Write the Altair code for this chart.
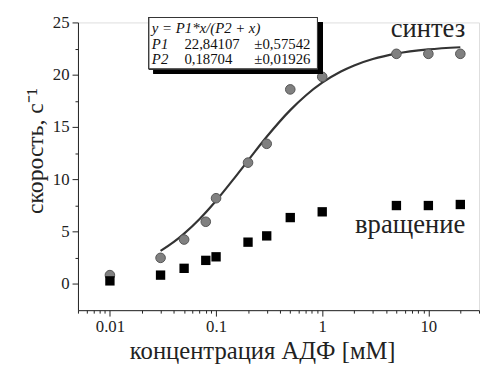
import altair as alt
import pandas as pd

# synthesis (circles)
syn_x = [0.01, 0.03, 0.05, 0.08, 0.1, 0.2, 0.3, 0.5, 1, 5, 10, 20]
syn_y = [0.85, 2.5, 4.25, 5.95, 8.2, 11.6, 13.4, 18.6, 19.8, 22.0, 22.0, 22.0]
# rotation (squares)
rot_x = [0.01, 0.03, 0.05, 0.08, 0.1, 0.2, 0.3, 0.5, 1, 5, 10, 20]
rot_y = [0.3, 0.85, 1.5, 2.26, 2.6, 4.0, 4.6, 6.35, 6.9, 7.5, 7.5, 7.6]
# fitted curve
fit_x = [0.03, 0.04, 0.05, 0.07, 0.1, 0.15, 0.2, 0.3, 0.5, 0.7, 1, 1.5, 2, 3, 5, 10, 20]
fit_y = [3.16, 4.02, 4.82, 6.22, 7.96, 10.17, 11.80, 14.07, 16.62, 18.02, 19.24,
         20.31, 20.89, 21.50, 22.02, 22.42, 22.63]

major_x = [0.01, 0.1, 1, 10]
minor_x = [0.005, 0.006, 0.007, 0.008, 0.009,
           0.02, 0.03, 0.04, 0.05, 0.06, 0.07, 0.08, 0.09,
           0.2, 0.3, 0.4, 0.5, 0.6, 0.7, 0.8, 0.9,
           2, 3, 4, 5, 6, 7, 8, 9, 20, 30]
y_ticks = [0, 2.5, 5, 7.5, 10, 12.5, 15, 17.5, 20, 22.5, 25]

series_labels = ["синтез", "вращение"]
series_label_x = [20, 20]
series_label_y = [23.6, 4.9]

fit_lines = [["y = P1*x/(P2 + x)", "", ""],
             ["P1", "22,84107", "±0,57542"],
             ["P2", "0,18704", "±0,01926"]]

FONT = "Liberation Serif"

xscale = alt.Scale(type="log", domain=[0.005, 30], nice=False)
yscale = alt.Scale(domain=[-2.5, 25], nice=False, zero=False)

major_test = "indexof([0.01, 0.1, 1, 10], datum.value) >= 0"
xaxis = alt.Axis(values=sorted(major_x + minor_x), format="~g",
                 labelExpr=f"{major_test} ? datum.label : ''",
                 tickSize={"condition": {"test": major_test, "value": 6}, "value": 3},
                 title="концентрация АДФ [мМ]", titleFont=FONT, titleFontSize=25,
                 titleFontWeight="normal", titleColor="#222", titlePadding=4,
                 titleX=187,
                 labelFont=FONT, labelFontSize=17, labelColor="#222", labelPadding=3,
                 grid=False, domainColor="#222", tickColor="#222", labelFlush=False)
ytest = "datum.value % 5 == 0"
yaxis = alt.Axis(values=y_ticks, labelExpr=f"{ytest} ? datum.label : ''",
                 tickSize={"condition": {"test": ytest, "value": 6}, "value": 3},
                 title="скорость, с⁻¹", titleFont=FONT, titleFontSize=24,
                 titleFontWeight="normal", titleColor="#222", titlePadding=5,
                 titleY=130,
                 labelFont=FONT, labelFontSize=17, labelColor="#222", labelPadding=3,
                 grid=False, domainColor="#222", tickColor="#222", labelFlush=False)

fit_df = pd.DataFrame({"x": fit_x, "y": fit_y})
syn_df = pd.DataFrame({"x": syn_x, "y": syn_y})
rot_df = pd.DataFrame({"x": rot_x, "y": rot_y})
lab_df = pd.DataFrame({"x": series_label_x, "y": series_label_y, "t": series_labels})

X = alt.X("x:Q", scale=xscale, axis=xaxis)
Y = alt.Y("y:Q", scale=yscale, axis=yaxis)

line = alt.Chart(fit_df).mark_line(color="#333", strokeWidth=2.2, interpolate="monotone").encode(x=X, y=Y)
circles = alt.Chart(syn_df).mark_circle(size=95, color="#808080", opacity=1,
                                        stroke="#555", strokeWidth=1).encode(x=X, y=Y)
squares = alt.Chart(rot_df).mark_square(size=90, color="#000", opacity=1).encode(x=X, y=Y)
labels = alt.Chart(lab_df).mark_text(font=FONT, fontSize=27, align="right", dx=5,
                                     baseline="alphabetic", color="#222").encode(
    x=X, y=Y, text="t:N")

# formula box (annotation, pixel positions within plot area)
shadow = alt.Chart(fit_df).mark_rect(color="#000").encode(
    x=alt.value(77), x2=alt.value(248), y=alt.value(0), y2=alt.value(52))
box = alt.Chart(fit_df).mark_rect(fill="white", stroke="#333", strokeWidth=1).encode(
    x=alt.value(72), x2=alt.value(243), y=alt.value(-5), y2=alt.value(47))

rows = []
col_x = [75, 108, 179]
row_y = [11, 26.5, 42]
for r, row in enumerate(fit_lines):
    for c, t in enumerate(row):
        if t:
            rows.append({"t": t, "px": col_x[c], "py": row_y[r],
                         "st": "italic" if c == 0 else "normal"})
box_df = pd.DataFrame(rows)
box_text_it = alt.Chart(box_df[box_df.st == "italic"]).mark_text(
    font=FONT, fontSize=15, fontStyle="italic", align="left", baseline="alphabetic", color="#111"
).encode(x=alt.X("px:Q", scale=None), y=alt.Y("py:Q", scale=None), text="t:N")
box_text = alt.Chart(box_df[box_df.st == "normal"]).mark_text(
    font=FONT, fontSize=15, align="left", baseline="alphabetic", color="#111"
).encode(x=alt.X("px:Q", scale=None), y=alt.Y("py:Q", scale=None), text="t:N")

chart = alt.layer(line, circles, squares, labels, shadow, box, box_text_it, box_text).properties(
    width=407, height=292, padding={"left": 16, "top": 3, "right": 0, "bottom": 0}
).configure_view(stroke=None).configure(background="white")

chart.save("out.html", embed_options={"renderer": "svg", "actions": False})
